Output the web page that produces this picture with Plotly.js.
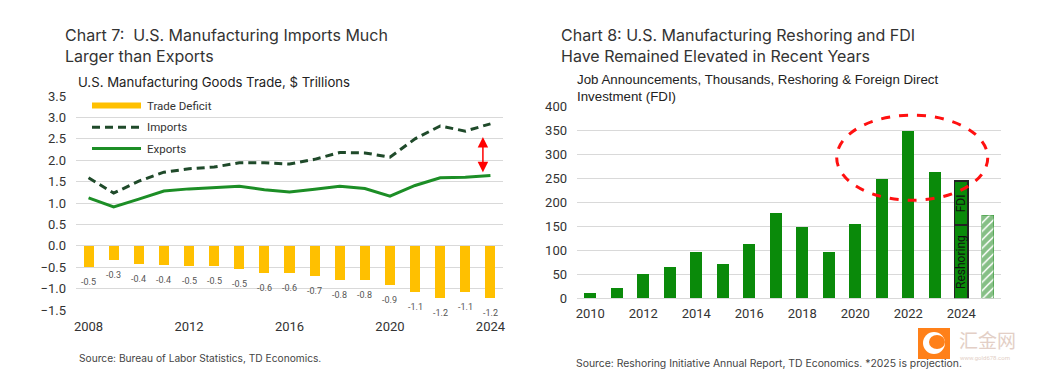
<!DOCTYPE html>
<html><head><meta charset="utf-8">
<script src="https://cdn.plot.ly/plotly-3.0.1.min.js"></script>
<style>html,body{margin:0;padding:0;background:#fff}#chart{width:1038px;height:383px}</style>
</head><body><div id="chart"></div>
<script>
// ---------- Chart 7 data ----------
const years7 = [2008,2009,2010,2011,2012,2013,2014,2015,2016,2017,2018,2019,2020,2021,2022,2023,2024];
const imports = [1.59,1.23,1.51,1.72,1.80,1.84,1.94,1.94,1.91,2.02,2.18,2.17,2.07,2.50,2.80,2.68,2.85];
const exportsVals = [1.12,0.91,1.09,1.28,1.33,1.36,1.39,1.31,1.26,1.32,1.39,1.34,1.16,1.41,1.59,1.60,1.64];
const deficit = [-0.49,-0.33,-0.43,-0.44,-0.47,-0.47,-0.54,-0.63,-0.64,-0.71,-0.79,-0.81,-0.91,-1.08,-1.21,-1.08,-1.22];
const deficitLabels = ['-0.5','-0.3','-0.4','-0.4','-0.5','-0.5','-0.5','-0.6','-0.6','-0.7','-0.8','-0.8','-0.9','-1.1','-1.2','-1.1','-1.2'];
const ticks7 = [2008,2012,2016,2020,2024];

// ---------- Chart 8 data ----------
const years8 = [2010,2011,2012,2013,2014,2015,2016,2017,2018,2019,2020,2021,2022,2023,2024,2025];
const jobs = [10,21,51,65,97,71,113,177,148,97,155,248,349,263,null,null];
const reshoring = [null,null,null,null,null,null,null,null,null,null,null,null,null,null,152,null];
const fdi = [null,null,null,null,null,null,null,null,null,null,null,null,null,null,92,null];
const projection = [null,null,null,null,null,null,null,null,null,null,null,null,null,null,null,173];
const ticks8 = [2010,2012,2014,2016,2018,2020,2022,2024];

const W = 1038, H = 383;
const px = x => x / W;
const py = y => 1 - y / H;

const FONT = 'Roboto, "Noto Sans", sans-serif';
const TFONT = 'Inter, "Noto Sans", sans-serif';
const YELLOW = '#FFC000', DKGREEN = '#1F4A2A', GREEN = '#1C8E26', BARGREEN = '#0A8A0A';

const traces = [
  {type:'bar', name:'Trade Deficit', x:years7, y:deficit, xaxis:'x', yaxis:'y', width:0.4,
   marker:{color:YELLOW}, showlegend:false},
  {type:'scatter', mode:'lines', name:'Imports', x:years7, y:imports, xaxis:'x', yaxis:'y',
   line:{color:DKGREEN, width:3, dash:'8px,5px'}, showlegend:false},
  {type:'scatter', mode:'lines', name:'Exports', x:years7, y:exportsVals, xaxis:'x', yaxis:'y',
   line:{color:GREEN, width:3}, showlegend:false},
  {type:'bar', name:'Job Announcements', x:years8, y:jobs, xaxis:'x2', yaxis:'y2', width:0.44,
   marker:{color:BARGREEN}, showlegend:false},
  {type:'bar', name:'Reshoring', x:years8, y:reshoring, xaxis:'x2', yaxis:'y2', width:0.5,
   marker:{color:BARGREEN, line:{color:'#222', width:1.5}}, showlegend:false},
  {type:'bar', name:'FDI', x:years8, y:fdi, xaxis:'x2', yaxis:'y2', width:0.5,
   marker:{color:BARGREEN, line:{color:'#222', width:1.5}}, showlegend:false},
  {type:'bar', name:'2025 projection', x:years8, y:projection, xaxis:'x2', yaxis:'y2', width:0.46,
   marker:{color:'#ffffff', line:{color:'#2a932a', width:0.5},
     pattern:{shape:'/', fgcolor:'#0E7F0E', bgcolor:'#ffffff', size:6, solidity:0.75, fillmode:'overlay'}},
   showlegend:false}
];

const annotations = [];
// titles
annotations.push({xref:'paper', yref:'paper', x:px(63), y:py(23), xanchor:'left', yanchor:'top', align:'left',
  text:'Chart 7:  U.S. Manufacturing Imports Much<br>Larger than Exports', showarrow:false,
  font:{family:TFONT, size:16, color:'#333'}});
annotations.push({xref:'paper', yref:'paper', x:px(76), y:py(72), xanchor:'left', yanchor:'top', align:'left',
  text:'U.S. Manufacturing Goods Trade, $ Trillions', showarrow:false,
  font:{family:TFONT, size:13.2, color:'#222'}});
annotations.push({xref:'paper', yref:'paper', x:px(559), y:py(23), xanchor:'left', yanchor:'top', align:'left',
  text:'Chart 8: U.S. Manufacturing Reshoring and FDI<br>Have Remained Elevated in Recent Years', showarrow:false,
  font:{family:TFONT, size:16, color:'#333'}});
annotations.push({xref:'paper', yref:'paper', x:px(575), y:py(70), xanchor:'left', yanchor:'top', align:'left',
  text:'Job Announcements, Thousands, Reshoring & Foreign Direct<br>Investment (FDI)', showarrow:false,
  font:{family:'"Liberation Sans", Arial, sans-serif', size:13.3, color:'#222'}});
// sources
annotations.push({xref:'paper', yref:'paper', x:px(77), y:py(358), xanchor:'left', yanchor:'middle',
  text:'Source: Bureau of Labor Statistics, TD Economics.', showarrow:false,
  font:{family:TFONT, size:10.2, color:'#444'}});
annotations.push({xref:'paper', yref:'paper', x:px(574), y:py(363), xanchor:'left', yanchor:'middle',
  text:'Source: Reshoring Initiative Annual Report, TD Economics. *2025 is projection.', showarrow:false,
  font:{family:TFONT, size:10.4, color:'#444'}});
// deficit labels
years7.forEach((yr,i) => annotations.push({xref:'x', yref:'y', x:yr, y:deficit[i], yshift:-15,
  text:deficitLabels[i], showarrow:false, font:{family:FONT, size:9, color:'#555'}}));
// legend (chart 7) labels
const legNames = ['Trade Deficit','Imports','Exports'];
const legY = [105.5, 127.3, 148.5];
legNames.forEach((n,i) => annotations.push({xref:'paper', yref:'paper', x:px(145), y:py(legY[i]),
  xanchor:'left', yanchor:'middle', text:n, showarrow:false, font:{family:FONT, size:11.5, color:'#333'}}));
// red double arrow between imports and exports
annotations.push({xref:'x', yref:'y', axref:'x', ayref:'y', x:2023.7, y:1.72, ax:2023.7, ay:2.58,
  text:'', showarrow:true, arrowhead:2, startarrowhead:2, arrowside:'end+start',
  arrowsize:1.4, startarrowsize:1.4, arrowwidth:1.5, arrowcolor:'#FF0000'});
// stacked 2024 labels
annotations.push({xref:'x2', yref:'y2', x:2024, y:reshoring[14]/2, text:'Reshoring', textangle:-90,
  showarrow:false, font:{family:FONT, size:12, color:'#111'}});
annotations.push({xref:'x2', yref:'y2', x:2024, y:reshoring[14] + fdi[14]/2, text:'FDI', textangle:-90,
  showarrow:false, font:{family:FONT, size:12, color:'#111'}});
// watermark
annotations.push({xref:'paper', yref:'paper', x:px(957), y:py(339), xanchor:'left', yanchor:'middle',
  text:'汇金网', showarrow:false, font:{family:'"Noto Sans CJK SC", sans-serif', size:19, color:'#E3CFC6'}});
annotations.push({xref:'paper', yref:'paper', x:px(958), y:py(357), xanchor:'left', yanchor:'middle',
  text:'www.gold678.com', showarrow:false, font:{family:FONT, size:6, color:'#E3CFC6'}});

const shapes = [
  // legend swatches
  {type:'rect', xref:'paper', yref:'paper', x0:px(92), x1:px(141), y0:py(102.5), y1:py(108.5),
   fillcolor:YELLOW, line:{width:0}},
  {type:'line', xref:'paper', yref:'paper', x0:px(92), x1:px(141), y0:py(127.3), y1:py(127.3),
   line:{color:DKGREEN, width:3, dash:'8px,5px'}},
  {type:'line', xref:'paper', yref:'paper', x0:px(92), x1:px(141), y0:py(148.5), y1:py(148.5),
   line:{color:GREEN, width:3}},
  // red dashed ellipse highlighting recent years
  {type:'circle', xref:'x2', yref:'y2', x0:2019.3, x1:2025.0, y0:204, y1:381,
   line:{color:'#FF1010', width:3, dash:'dash'}},
  // watermark logo
  {type:'rect', xref:'paper', yref:'paper', x0:px(918), x1:px(950), y0:py(359), y1:py(328),
   fillcolor:'#FF8019', line:{width:0}},
  {type:'circle', xref:'paper', yref:'paper', x0:px(923), x1:px(945), y0:py(354), y1:py(332),
   fillcolor:'#ffffff', line:{width:0}},
  {type:'circle', xref:'paper', yref:'paper', x0:px(929), x1:px(945), y0:py(349), y1:py(335),
   fillcolor:'#FF8019', line:{width:0}}
];

const tickfont = {family:FONT, size:13, color:'#333'};
const layout = {
  width:W, height:H, margin:{l:0,r:0,t:0,b:0}, paper_bgcolor:'#fff', plot_bgcolor:'#fff',
  barmode:'stack', showlegend:false, hovermode:false,
  xaxis:{domain:[px(76), px(503)], range:[2007.5,2024.5], tickvals:ticks7, ticktext:ticks7.map(String),
    showgrid:false, zeroline:false, showline:false, ticks:'', tickfont:tickfont, ticklabelstandoff:7, anchor:'y'},
  yaxis:{domain:[py(310), py(96)], range:[-1.5,3.5], tickvals:[-1.5,-1,-0.5,0,0.5,1,1.5,2,2.5,3,3.5],
    tickformat:'.1f', gridcolor:'#D9D9D9', gridwidth:1, zeroline:true, zerolinecolor:'#D9D9D9', zerolinewidth:1,
    showline:false, ticks:'', tickfont:tickfont, ticklabelstandoff:9, anchor:'x'},
  xaxis2:{domain:[px(577), px(1001)], range:[2009.5,2025.5], tickvals:ticks8, ticktext:ticks8.map(String),
    showgrid:false, zeroline:false, showline:false, ticks:'', tickfont:tickfont, ticklabelstandoff:6, anchor:'y2'},
  yaxis2:{domain:[py(298.3), py(106)], range:[0,400], dtick:50, gridcolor:'#D9D9D9', gridwidth:1,
    zeroline:true, zerolinecolor:'#D9D9D9', showline:false, ticks:'', tickfont:tickfont, ticklabelstandoff:9, anchor:'x2'},
  annotations:annotations, shapes:shapes
};
Plotly.newPlot('chart', traces, layout, {staticPlot:true, displayModeBar:false});
</script></body></html>
